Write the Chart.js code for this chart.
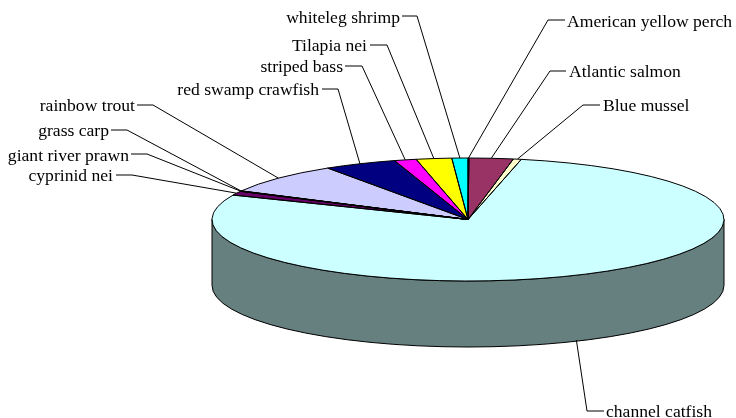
<!DOCTYPE html>
<html lang="en">
  <head>
    <meta charset="UTF-8" />
    <title>Production by species</title>
    <script src="https://cdn.jsdelivr.net/npm/chart.js"></script>
    <style>
      html, body { margin: 0; padding: 0; background: #fff; }
      canvas { display: block; }
    </style>
  </head>
  <body>
    <canvas id="pieChart" width="736" height="418"></canvas>
    <script>
      // Share of each species, in percent
      const species = [
        "American yellow perch", "Atlantic salmon", "Blue mussel", "channel catfish",
        "cyprinid nei", "giant river prawn", "grass carp", "rainbow trout",
        "red swamp crawfish", "striped bass", "Tilapia nei", "whiteleg shrimp"
      ];
      const shares = [0.06, 2.78, 0.5, 78.2, 1.08, 0.06, 0.06, 8.07, 4.6, 1.39, 2.24, 1.01];
      const colors = [
        "#9999FF", "#993366", "#FFFFCC", "#CCFFFF", "#660066", "#FF8080",
        "#0066CC", "#CCCCFF", "#000080", "#FF00FF", "#FFFF00", "#00FFFF"
      ];
      const wallColors = [
        "#4C4C7F", "#4C1933", "#7F7F66", "#667F7F", "#330033", "#7F4040",
        "#003366", "#66667F", "#000040", "#7F007F", "#7F7F00", "#007F7F"
      ];

      // Where each label sits: text edge, text middle, elbow of the leader line
      const labelX = [567, 569, 603, 606, 113, 129, 109, 135, 319, 343, 367, 400];
      const labelY = [22, 72, 106, 412, 176, 156, 131, 106, 90, 67, 46, 18];
      const elbowX = [548, 550, 583, 587, 132, 147, 127, 153, 338, 362, 387, 417];
      const elbowY = [20, 71, 105, 411, 175, 154, 130, 105, 89, 66, 45, 16];
      const stubX = [565, 566, 600, 604, 116, 131, 111, 137, 322, 345, 370, 402];
      const leaderNudge = [0, 0, 0, -9, 0, 0, 0, 0, 0, 0, 0, 0];

      // Tilted disc: centre and radii on the page, plus the wall height
      const disc = { x: 468, y: 219.5, rx: 256, ry: 61.5, depth: 66 };

      const tiltedPie = {
        id: "tiltedPie",
        beforeDatasetDraw(chart, args) {
          const ctx = chart.ctx;
          const arcs = args.meta.data;

          // front wall, only the part of each slice facing the viewer
          arcs.forEach((arc, i) => {
            const a0 = Math.max(arc.startAngle, 0);
            const a1 = Math.min(arc.endAngle, Math.PI);
            if (a1 <= a0) return;
            ctx.beginPath();
            ctx.ellipse(disc.x, disc.y, disc.rx, disc.ry, 0, a0, a1);
            ctx.ellipse(disc.x, disc.y + disc.depth, disc.rx, disc.ry, 0, a1, a0, true);
            ctx.closePath();
            ctx.fillStyle = wallColors[i];
            ctx.fill();
            ctx.lineWidth = 1;
            ctx.strokeStyle = "#000";
            ctx.stroke();
          });

          // the library draws a circle, squash it into the disc
          const first = arcs[0];
          const r = first.outerRadius;
          ctx.save();
          ctx.translate(disc.x, disc.y);
          ctx.scale(disc.rx / r, disc.ry / r);
          ctx.translate(-first.x, -first.y);
        },
        afterDatasetDraw(chart, args) {
          const ctx = chart.ctx;
          ctx.restore();
          ctx.lineWidth = 1;
          ctx.strokeStyle = "#000";

          args.meta.data.forEach((arc) => {
            ctx.beginPath();
            ctx.moveTo(disc.x, disc.y);
            ctx.ellipse(disc.x, disc.y, disc.rx, disc.ry, 0, arc.startAngle, arc.endAngle);
            ctx.closePath();
            ctx.stroke();
          });

          ctx.font = "17.6px 'Liberation Serif'";
          ctx.textBaseline = "middle";
          ctx.fillStyle = "#000";
          args.meta.data.forEach((arc, i) => {
            const mid = (arc.startAngle + arc.endAngle) / 2;
            const front = Math.sin(mid) > 0 ? disc.depth : 0;
            const endX = disc.x + disc.rx * Math.cos(mid) + leaderNudge[i];
            const endY = disc.y + disc.ry * Math.sin(mid) + front;

            ctx.beginPath();
            ctx.moveTo(stubX[i], elbowY[i]);
            ctx.lineTo(elbowX[i], elbowY[i]);
            ctx.lineTo(endX, endY);
            ctx.stroke();

            ctx.textAlign = elbowX[i] > labelX[i] ? "right" : "left";
            ctx.fillText(species[i], labelX[i], labelY[i]);
          });
        }
      };

      new Chart(document.getElementById("pieChart").getContext("2d"), {
        type: "pie",
        data: {
          labels: species,
          datasets: [
            {
              data: shares,
              backgroundColor: colors,
              borderWidth: 0,
              clip: false
            }
          ]
        },
        options: {
          responsive: false,
          animation: false,
          events: [],
          plugins: {
            legend: { display: false },
            tooltip: { enabled: false }
          }
        },
        plugins: [tiltedPie]
      });
    </script>
  </body>
</html>
